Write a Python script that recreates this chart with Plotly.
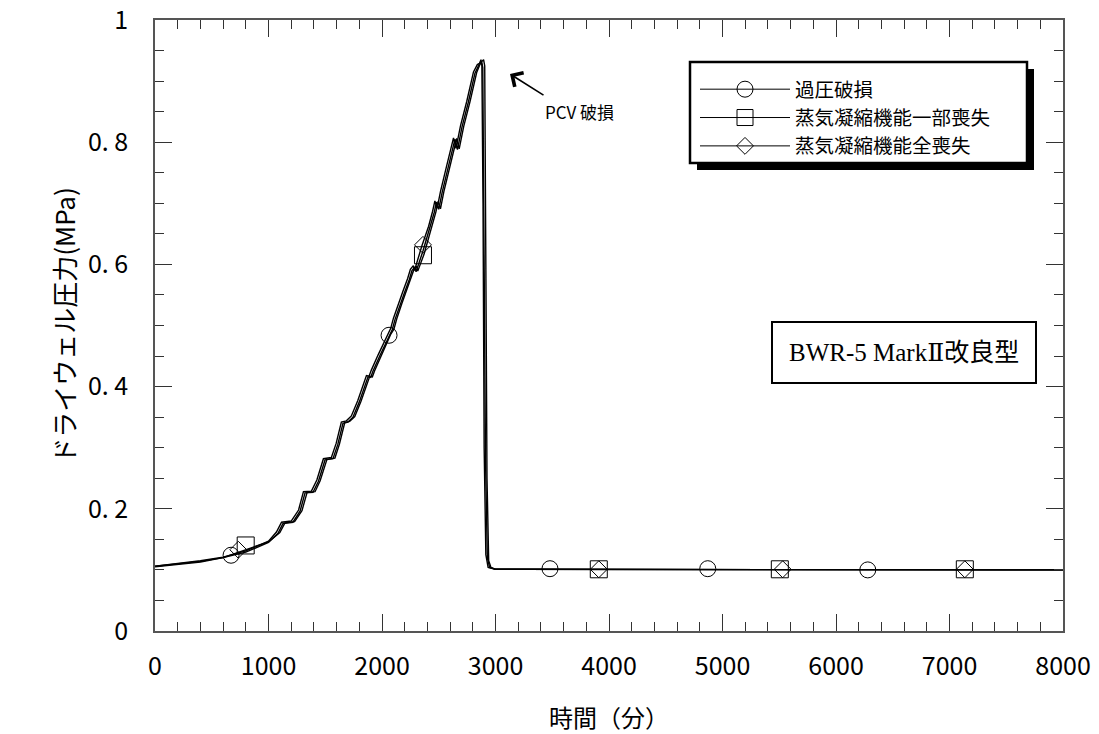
import plotly.graph_objects as go

# ---------------- data ----------------
# 過圧破損
t_over = [0, 200, 400, 600, 800, 1000, 1084, 1128, 1215, 1278, 1322, 1392, 1440, 1498, 1568,
          1610, 1656, 1700, 1744, 1800, 1877, 1900, 1920, 1980, 2062, 2090, 2115, 2160, 2200,
          2240, 2264, 2290, 2300, 2361, 2423, 2460, 2480, 2500, 2530, 2581, 2620, 2643, 2665,
          2705, 2760, 2819, 2850, 2872, 2880, 2890, 2900, 2915, 2935, 3000, 8000]
p_over = [0.106, 0.110, 0.114, 0.120, 0.129, 0.145, 0.160, 0.176, 0.178, 0.196, 0.226, 0.227,
          0.245, 0.280, 0.282, 0.305, 0.340, 0.342, 0.350, 0.375, 0.416, 0.415, 0.425, 0.450,
          0.484, 0.493, 0.510, 0.535, 0.555, 0.575, 0.590, 0.596, 0.588, 0.622, 0.660, 0.685,
          0.702, 0.690, 0.718, 0.758, 0.785, 0.805, 0.788, 0.825, 0.865, 0.913, 0.925, 0.935,
          0.925, 0.700, 0.300, 0.125, 0.104, 0.101, 0.100]

# 蒸気凝縮機能一部喪失
t_part = [0, 200, 400, 600, 800, 1000, 1100, 1145, 1230, 1295, 1340, 1410, 1455, 1515, 1585,
          1625, 1672, 1715, 1760, 1815, 1892, 1915, 1935, 1995, 2075, 2105, 2130, 2175, 2215,
          2255, 2280, 2305, 2315, 2371, 2438, 2475, 2495, 2515, 2545, 2596, 2635, 2658, 2680,
          2720, 2775, 2834, 2860, 2878, 2888, 2900, 2912, 2928, 2948, 3000, 8000]
p_part = [0.105, 0.109, 0.113, 0.120, 0.133, 0.146, 0.161, 0.177, 0.179, 0.197, 0.227, 0.228,
          0.246, 0.281, 0.283, 0.306, 0.341, 0.343, 0.351, 0.376, 0.417, 0.416, 0.426, 0.451,
          0.485, 0.494, 0.511, 0.536, 0.556, 0.576, 0.591, 0.597, 0.589, 0.617, 0.661, 0.686,
          0.703, 0.691, 0.719, 0.759, 0.786, 0.806, 0.789, 0.826, 0.866, 0.914, 0.926, 0.932,
          0.922, 0.650, 0.280, 0.120, 0.104, 0.101, 0.100]

# 蒸気凝縮機能全喪失
t_full = [0, 200, 400, 600, 800, 1000, 1070, 1115, 1200, 1265, 1308, 1378, 1426, 1484, 1554,
          1596, 1642, 1686, 1730, 1786, 1863, 1886, 1906, 1966, 2048, 2076, 2101, 2146, 2186,
          2226, 2250, 2276, 2286, 2351, 2410, 2446, 2466, 2486, 2516, 2568, 2606, 2630, 2652,
          2692, 2747, 2806, 2840, 2868, 2895, 2905, 2915, 2925, 2940, 2960, 3000, 8000]
p_full = [0.106, 0.110, 0.115, 0.121, 0.131, 0.147, 0.162, 0.178, 0.180, 0.198, 0.228, 0.229,
          0.247, 0.282, 0.284, 0.307, 0.342, 0.344, 0.352, 0.377, 0.418, 0.417, 0.427, 0.452,
          0.486, 0.495, 0.512, 0.537, 0.557, 0.577, 0.592, 0.598, 0.590, 0.630, 0.662, 0.687,
          0.704, 0.692, 0.720, 0.760, 0.787, 0.807, 0.790, 0.827, 0.867, 0.915, 0.927, 0.930,
          0.935, 0.925, 0.600, 0.250, 0.115, 0.104, 0.101, 0.100]

# marker positions
mk_over_t = [670, 2062, 3480, 4870, 6280]
mk_over_p = [0.124, 0.484, 0.102, 0.102, 0.100]
mk_part_t = [799, 2361, 3910, 5505, 7135]
mk_part_p = [0.140, 0.615, 0.101, 0.101, 0.101]
mk_full_t = [734, 2361, 3910, 5530, 7135]
mk_full_p = [0.133, 0.632, 0.101, 0.101, 0.101]

names = ["過圧破損", "蒸気凝縮機能一部喪失", "蒸気凝縮機能全喪失"]
symbols = ["circle-open", "square-open", "diamond-open"]
msizes = [16, 17, 13]

x_ticks = [0, 1000, 2000, 3000, 4000, 5000, 6000, 7000, 8000]
x_ticklabels = ["0", "1000", "2000", "3000", "4000", "5000", "6000", "7000", "8000"]
y_ticks = [0, 0.2, 0.4, 0.6, 0.8, 1.0]
y_ticklabels = ["0", "0. 2", "0. 4", "0. 6", "0. 8", "1"]

# ---------------- figure ----------------
W, H = 1099, 734
L, R, T, B = 155, 36, 20, 103
pw, ph = W - L - R, H - T - B

def px(x):
    return (x - L) / pw

def py(y):
    return (H - B - y) / ph

fig = go.Figure()
series = [(t_over, p_over), (t_part, p_part), (t_full, p_full)]
marks = [(mk_over_t, mk_over_p), (mk_part_t, mk_part_p), (mk_full_t, mk_full_p)]

for (t, p), (mt, mp), nm, sym, ms in zip(series, marks, names, symbols, msizes):
    fig.add_trace(go.Scatter(x=t, y=p, mode="lines", line=dict(color="black", width=1.4),
                             showlegend=False, hoverinfo="skip"))
    fig.add_trace(go.Scatter(x=mt, y=mp, mode="markers",
                             marker=dict(symbol=sym, size=ms, color="black", line=dict(width=1)),
                             showlegend=False))
    # legend entry
    fig.add_trace(go.Scatter(x=[None], y=[None], mode="lines+markers", name=nm,
                             line=dict(color="black", width=1),
                             marker=dict(symbol=sym, size=ms, color="black", line=dict(width=1))))

font_cjk = "Noto Sans CJK JP"

fig.update_layout(
    width=W, height=H,
    margin=dict(l=L, r=R, t=T, b=B, autoexpand=False),
    paper_bgcolor="white", plot_bgcolor="white",
    font=dict(family=font_cjk, color="black", size=20),
    showlegend=True,
    legend=dict(x=px(695), y=py(70), xanchor="left", yanchor="top",
                bgcolor="rgba(0,0,0,0)", borderwidth=0,
                font=dict(family=font_cjk, size=19.5, color="black"),
                itemwidth=90, tracegroupgap=0),
    xaxis=dict(range=[0, 8000], tickmode="array", tickvals=x_ticks, ticktext=x_ticklabels,
               ticks="inside", ticklen=17, tickwidth=1.2, tickcolor="#333",
               minor=dict(dtick=200, ticks="inside", ticklen=9, tickwidth=1.2, tickcolor="#333"),
               showline=True, linecolor="#555", linewidth=1.5, mirror="ticks",
               showgrid=False, zeroline=False, ticklabeloverflow="allow",
               tickfont=dict(family=font_cjk, size=25), ticklabelstandoff=12,
               title=dict(text="時間（分）", font=dict(family=font_cjk, size=24), standoff=30)),
    yaxis=dict(range=[0, 1], tickmode="array", tickvals=y_ticks, ticktext=y_ticklabels,
               ticks="inside", ticklen=17, tickwidth=1.2, tickcolor="#333",
               minor=dict(dtick=0.05, ticks="inside", ticklen=9, tickwidth=1.2, tickcolor="#333"),
               showline=True, linecolor="#555", linewidth=1.5, mirror="ticks",
               showgrid=False, zeroline=False, ticklabeloverflow="allow",
               tickfont=dict(family=font_cjk, size=25), ticklabelstandoff=20,
               title=dict(text="ドライウェル圧力(MPa)", font=dict(family=font_cjk, size=26), standoff=5)),
    shapes=[
        # legend shadow + box
        dict(type="rect", xref="paper", yref="paper", x0=px(697), x1=px(1034), y0=py(170), y1=py(69),
             fillcolor="black", line=dict(width=0), layer="above"),
        dict(type="rect", xref="paper", yref="paper", x0=px(690), x1=px(1027), y0=py(163), y1=py(62),
             fillcolor="white", line=dict(color="black", width=2.5), layer="above"),
        # model box
        dict(type="rect", xref="paper", yref="paper", x0=px(772), x1=px(1036), y0=py(383), y1=py(322),
             fillcolor="white", line=dict(color="black", width=2), layer="above"),
    ],
    annotations=[
        dict(x=px(904), y=py(352), xref="paper", yref="paper", showarrow=False,
             text="BWR-5 MarkⅡ改良型", xanchor="center", yanchor="middle",
             font=dict(family="Liberation Serif, DejaVu Serif, Noto Sans CJK JP", size=25, color="black")),
        dict(x=px(543), y=py(111), xref="paper", yref="paper", showarrow=False,
             text="PCV 破損", xanchor="left", yanchor="middle",
             font=dict(family="Liberation Sans Narrow, Noto Sans CJK JP", size=17, color="black")),
        # arrow pointing to the pressure peak
        dict(x=px(510), y=py(74), xref="paper", yref="paper",
             ax=35, ay=22, axref="pixel", ayref="pixel",
             showarrow=True, arrowhead=4, arrowsize=2, arrowwidth=1.6, arrowcolor="black",
             text=""),
    ],
)

fig.write_html("out.html")
